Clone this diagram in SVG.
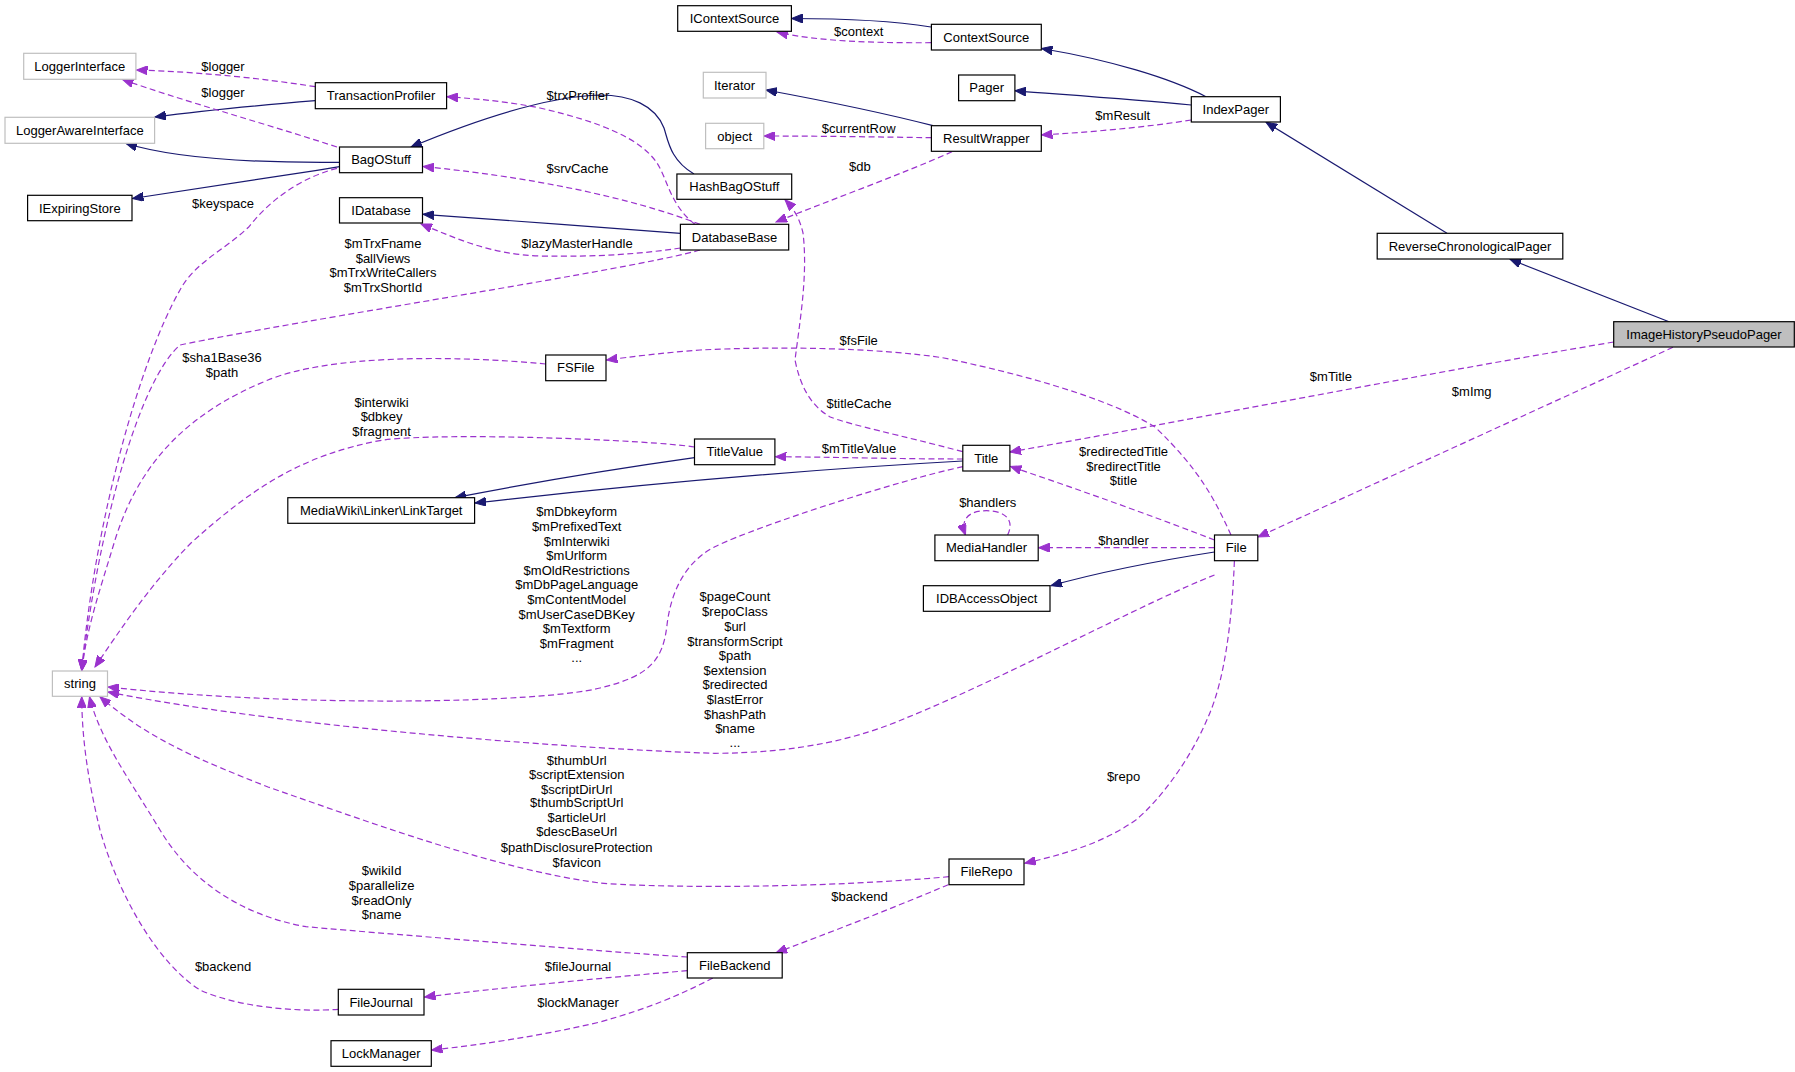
<svg xmlns="http://www.w3.org/2000/svg" width="1795" height="1072" viewBox="0 0 1795 1072">
<style>
text{font-family:"Liberation Sans",Arial,sans-serif;font-size:13px;fill:#000}
.n rect{fill:#fff;stroke:#000;stroke-width:1.2}
.n.g rect{stroke:#bfbfbf}
.n.h rect{fill:#bfbfbf}
.n text{text-anchor:middle}
.e path{fill:none}
.i{stroke:#191970;stroke-width:1.2;marker-end:url(#ab)}
.u{stroke:#9a32cd;stroke-width:1.2;stroke-dasharray:6,3.5;marker-end:url(#ap)}
.l text{text-anchor:middle}
</style>
<defs>
<marker id="ab" markerUnits="userSpaceOnUse" markerWidth="12" markerHeight="9" refX="11" refY="4.5" orient="auto"><path d="M0,0 L11,4.5 L0,9 z" fill="#191970" stroke="#191970"/></marker>
<marker id="ap" markerUnits="userSpaceOnUse" markerWidth="12" markerHeight="9" refX="11" refY="4.5" orient="auto"><path d="M0,0 L11,4.5 L0,9 z" fill="#9a32cd" stroke="#9a32cd"/></marker>
</defs>
<rect width="1795" height="1072" fill="#fff"/>
<g id="edges" class="e">
<path class="i" d="M931,27 C900,22 850,18.5 791.5,18.5"/>
<path class="u" d="M931,42.7 C880,43 820,42 777,32"/>
<path class="i" d="M1206,96.7 C1170,78 1110,60 1041.5,48.5"/>
<path class="i" d="M1191.3,105 C1130,99 1070,95 1015,90.7"/>
<path class="u" d="M1191.3,120 C1140,128 1090,132 1041.5,135"/>
<path class="i" d="M933,125.7 C880,112 820,100 766,90"/>
<path class="u" d="M931.4,137.7 C880,137 820,136 764,136"/>
<path class="u" d="M952,151.7 C900,175 830,200 776,222"/>
<path class="i" d="M1447,233.3 L1266,122.3"/>
<path class="i" d="M1669,321.7 L1510,259.3"/>
<path class="u" d="M1613.7,342 C1400,378 1200,418 1010,452"/>
<path class="u" d="M1673,347.3 L1258,537"/>
<path class="u" d="M315.3,86.7 C260,78 200,72 136.5,70"/>
<path class="i" d="M315.3,100.7 C250,106 200,111 155,117"/>
<path class="u" d="M337,147 C260,122 180,100 122.5,79.5"/>
<path class="i" d="M339.5,162.3 C260,163 180,160 126,143.5"/>
<path class="i" d="M339.5,166.7 C270,178 200,188 132.5,198.5"/>
<path class="i" d="M694,174 C670,160 668,140 664,128 C655,105 630,95 600,95 C560,96 500,110 411,147"/>
<path class="u" d="M695,224.3 C670,205 668,180 657,163 C640,138 600,122 540,108 C510,102 480,99 447,96.7"/>
<path class="u" d="M700,224.3 C650,205 560,180 423,166.5"/>
<path class="i" d="M680.4,233.3 C600,227 500,220 423,214.3"/>
<path class="u" d="M680.4,248 C640,254 600,257 540,256 C490,254 460,240 421,224"/>
<path class="u" d="M700,250 C640,268 300,320 180,345 C140,380 100,520 81.7,670.5"/>
<path class="u" d="M337,168.3 C300,178 270,200 249,226.7 C225,250 195,262 180,290 C140,360 95,520 81.7,670.5"/>
<path class="u" d="M545.7,364 C450,355 330,355 268,380 C190,412 140,460 115,540 C100,590 86,630 82,670.5"/>
<path class="u" d="M694.5,447 C650,440 450,432 383,440 C300,455 250,490 191,543 C150,585 120,630 95,667"/>
<path class="u" d="M962.8,466.7 C900,480 760,525 714.8,546.7 C680,565 670,600 667,625 C663,660 650,676 600,688 C540,703 300,708 108,687"/>
<path class="u" d="M1214.5,575 C1150,600 1000,680 906,718 C860,738 800,753 714.8,753.3 C600,750 300,730 108,692"/>
<path class="u" d="M949,876.7 C800,890 640,887 600,883 C500,870 380,826 268,787 C200,760 150,740 100,696.8"/>
<path class="u" d="M687.3,957 C650,955 400,935 306,926.7 C240,915 190,880 160,830 C130,780 100,740 89.5,696.8"/>
<path class="u" d="M338.3,1009.3 C300,1012 240,1008 200,990 C160,965 120,900 100,830 C88,780 82,740 81.7,696.8"/>
<path class="u" d="M1231,535 C1215,500 1200,470 1155,427 C1120,405 1050,380 944,358 C880,348 780,346 700,350 C660,353 630,357 606.5,360"/>
<path class="u" d="M962.8,451.7 C900,435 850,425 829.6,416.7 C810,405 800,385 795,360 C800,320 808,275 803,233 C800,220 795,210 785,199.8"/>
<path class="u" d="M962.8,459 C900,459 830,457 775.5,456.7"/>
<path class="i" d="M962.8,461 C800,470 650,483 475,503"/>
<path class="i" d="M694.5,457.7 C600,471 520,485 455,497.7"/>
<path class="u" d="M1214.5,540 C1150,515 1080,490 1010.5,466.5"/>
<path class="u" d="M1007.6,535 C1015,520 1005,510.7 986.5,510.7 C968,510.7 960,520 965.5,535"/>
<path class="u" d="M1214.5,547.7 L1038.5,547.7"/>
<path class="i" d="M1214.5,552 C1150,562 1100,572 1051,585.7"/>
<path class="u" d="M1234.4,561 C1232,620 1225,680 1207.7,718 C1190,760 1160,800 1135.8,820 C1100,845 1060,855 1024.8,863.3"/>
<path class="u" d="M948.3,884.7 C900,905 850,925 776,952.7"/>
<path class="u" d="M687.3,970.7 C600,978 500,988 424.5,997"/>
<path class="u" d="M712.9,978 C680,995 650,1008 600,1022 C540,1036 480,1045 431.5,1050"/>
</g>
<g id="labels" class="l">
<text x="858.7" y="36.2">$context</text>
<text x="858.7" y="133.2">$currentRow</text>
<text x="859.9" y="171.2">$db</text>
<text x="1122.8" y="120.2">$mResult</text>
<text x="223" y="71.2">$logger</text>
<text x="223" y="97.2">$logger</text>
<text x="223" y="207.8">$keyspace</text>
<text x="578" y="99.5">$trxProfiler</text>
<text x="577.5" y="172.8">$srvCache</text>
<text x="577" y="247.8">$lazyMasterHandle</text>
<text x="383" y="247.8">$mTrxFname</text>
<text x="383" y="262.8">$allViews</text>
<text x="383" y="277.2">$mTrxWriteCallers</text>
<text x="383" y="291.8">$mTrxShortId</text>
<text x="222" y="362">$sha1Base36</text>
<text x="222" y="377.2">$path</text>
<text x="858.7" y="344.5">$fsFile</text>
<text x="859" y="407.8">$titleCache</text>
<text x="859" y="452.8">$mTitleValue</text>
<text x="1330.9" y="380.5">$mTitle</text>
<text x="1471.7" y="396.2">$mImg</text>
<text x="381.6" y="406.8">$interwiki</text>
<text x="381.6" y="421.2">$dbkey</text>
<text x="381.6" y="435.8">$fragment</text>
<text x="1123.5" y="455.5">$redirectedTitle</text>
<text x="1123.5" y="471.2">$redirectTitle</text>
<text x="1123.5" y="485.2">$title</text>
<text x="987.7" y="507.2">$handlers</text>
<text x="1123.5" y="544.5">$handler</text>
<text x="576.7" y="516.2">$mDbkeyform</text>
<text x="576.7" y="530.5">$mPrefixedText</text>
<text x="576.7" y="545.5">$mInterwiki</text>
<text x="576.7" y="560.2">$mUrlform</text>
<text x="576.7" y="574.5">$mOldRestrictions</text>
<text x="576.7" y="588.8">$mDbPageLanguage</text>
<text x="576.7" y="603.5">$mContentModel</text>
<text x="576.7" y="618.8">$mUserCaseDBKey</text>
<text x="576.7" y="633.2">$mTextform</text>
<text x="576.7" y="647.8">$mFragment</text>
<text x="576.7" y="662">...</text>
<text x="735" y="601.2">$pageCount</text>
<text x="735" y="616.2">$repoClass</text>
<text x="735" y="631.2">$url</text>
<text x="735" y="645.5">$transformScript</text>
<text x="735" y="660.2">$path</text>
<text x="735" y="675.2">$extension</text>
<text x="735" y="688.8">$redirected</text>
<text x="735" y="703.8">$lastError</text>
<text x="735" y="718.5">$hashPath</text>
<text x="735" y="733.2">$name</text>
<text x="735" y="747">...</text>
<text x="576.7" y="764.5">$thumbUrl</text>
<text x="576.7" y="778.8">$scriptExtension</text>
<text x="576.7" y="793.5">$scriptDirUrl</text>
<text x="576.7" y="806.8">$thumbScriptUrl</text>
<text x="576.7" y="822.2">$articleUrl</text>
<text x="576.7" y="836.2">$descBaseUrl</text>
<text x="576.7" y="851.8">$pathDisclosureProtection</text>
<text x="576.7" y="866.8">$favicon</text>
<text x="1123.5" y="781.2">$repo</text>
<text x="381.6" y="875.2">$wikiId</text>
<text x="381.6" y="890.2">$parallelize</text>
<text x="381.6" y="904.5">$readOnly</text>
<text x="381.6" y="918.8">$name</text>
<text x="859.5" y="901.2">$backend</text>
<text x="223.1" y="971.2">$backend</text>
<text x="578" y="971.2">$fileJournal</text>
<text x="578" y="1007.2">$lockManager</text>
</g>
<g id="IContextSource" class="n"><rect x="677.7" y="5.7" width="113.7" height="25.6"/><text x="734.5" y="23">IContextSource</text></g>
<g id="ContextSource" class="n"><rect x="931.4" y="24.3" width="109.9" height="25.7"/><text x="986.3" y="41.7">ContextSource</text></g>
<g id="Iterator" class="n g"><rect x="703.3" y="72.3" width="62.7" height="25.7"/><text x="734.6" y="89.7">Iterator</text></g>
<g id="Pager" class="n"><rect x="958.6" y="75" width="56.3" height="25.7"/><text x="986.7" y="92.4">Pager</text></g>
<g id="object" class="n g"><rect x="705.6" y="123.3" width="58.2" height="25.4"/><text x="734.7" y="140.5">object</text></g>
<g id="ResultWrapper" class="n"><rect x="931.4" y="125.7" width="109.9" height="25.6"/><text x="986.3" y="143">ResultWrapper</text></g>
<g id="IndexPager" class="n"><rect x="1191.3" y="96.7" width="89.1" height="25.3"/><text x="1235.8" y="113.8">IndexPager</text></g>
<g id="ReverseChronologicalPager" class="n"><rect x="1377.2" y="233.3" width="185.6" height="25.7"/><text x="1470" y="250.7">ReverseChronologicalPager</text></g>
<g id="ImageHistoryPseudoPager" class="n h"><rect x="1613.7" y="321.7" width="180.6" height="25.3"/><text x="1704" y="338.8">ImageHistoryPseudoPager</text></g>
<g id="LoggerInterface" class="n g"><rect x="23.7" y="53.3" width="112.2" height="26"/><text x="79.8" y="70.8">LoggerInterface</text></g>
<g id="TransactionProfiler" class="n"><rect x="315.3" y="82.7" width="131.3" height="26"/><text x="381" y="100.2">TransactionProfiler</text></g>
<g id="LoggerAwareInterface" class="n g"><rect x="5" y="117.3" width="149.6" height="26"/><text x="79.8" y="134.8">LoggerAwareInterface</text></g>
<g id="BagOStuff" class="n"><rect x="339.5" y="147" width="83" height="25.7"/><text x="381" y="164.4">BagOStuff</text></g>
<g id="IExpiringStore" class="n"><rect x="27.6" y="195.3" width="104.4" height="25.4"/><text x="79.8" y="212.5">IExpiringStore</text></g>
<g id="IDatabase" class="n"><rect x="339.5" y="197.7" width="83" height="25.3"/><text x="381" y="214.8">IDatabase</text></g>
<g id="HashBagOStuff" class="n"><rect x="676.9" y="174" width="114.8" height="25.3"/><text x="734.3" y="191.2">HashBagOStuff</text></g>
<g id="DatabaseBase" class="n"><rect x="680.4" y="224.3" width="108.3" height="25.7"/><text x="734.5" y="241.7">DatabaseBase</text></g>
<g id="FSFile" class="n"><rect x="545.7" y="355" width="60.3" height="25.7"/><text x="575.8" y="372.4">FSFile</text></g>
<g id="TitleValue" class="n"><rect x="694.5" y="439" width="80.4" height="25.7"/><text x="734.7" y="456.4">TitleValue</text></g>
<g id="Title" class="n"><rect x="962.8" y="445.3" width="47.1" height="25.7"/><text x="986.3" y="462.7">Title</text></g>
<g id="LinkTarget" class="n"><rect x="287.8" y="497.7" width="186.8" height="25.6"/><text x="381.2" y="515">MediaWiki\Linker\LinkTarget</text></g>
<g id="MediaHandler" class="n"><rect x="934.9" y="535" width="103.3" height="25.7"/><text x="986.5" y="552.4">MediaHandler</text></g>
<g id="IDBAccessObject" class="n"><rect x="923.4" y="585.7" width="126.6" height="25.6"/><text x="986.7" y="603">IDBAccessObject</text></g>
<g id="File" class="n"><rect x="1214.5" y="535" width="43.3" height="25.7"/><text x="1236.2" y="552.4">File</text></g>
<g id="string" class="n g"><rect x="52.4" y="671" width="55.1" height="25.3"/><text x="80" y="688.2">string</text></g>
<g id="FileRepo" class="n"><rect x="949" y="859" width="75" height="25.7"/><text x="986.5" y="876.4">FileRepo</text></g>
<g id="FileBackend" class="n"><rect x="687.3" y="952.7" width="94.9" height="25.3"/><text x="734.8" y="969.8">FileBackend</text></g>
<g id="FileJournal" class="n"><rect x="338.3" y="989.3" width="85.7" height="25.7"/><text x="381.2" y="1006.7">FileJournal</text></g>
<g id="LockManager" class="n"><rect x="331" y="1040.7" width="100.3" height="25.6"/><text x="381.2" y="1058">LockManager</text></g>
</svg>
